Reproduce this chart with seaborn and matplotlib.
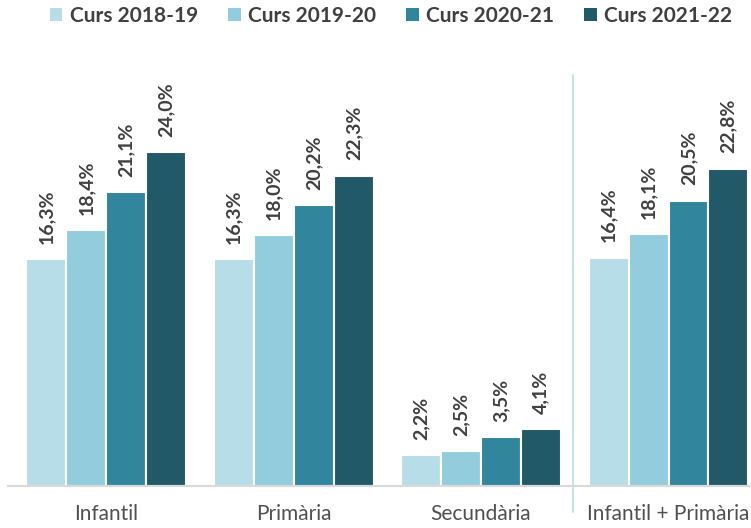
import matplotlib
matplotlib.use("Agg")
import matplotlib.pyplot as plt
import seaborn as sns
import pandas as pd
from matplotlib.patches import Patch

categories = ["Infantil", "Primària", "Secundària", "Infantil + Primària"]
courses = ["Curs 2018-19", "Curs 2019-20", "Curs 2020-21", "Curs 2021-22"]
values = {
    "Curs 2018-19": [16.3, 16.3, 2.2, 16.4],
    "Curs 2019-20": [18.4, 18.0, 2.5, 18.1],
    "Curs 2020-21": [21.1, 20.2, 3.5, 20.5],
    "Curs 2021-22": [24.0, 22.3, 4.1, 22.8],
}
colors = ["#B7DEE8", "#93CDDD", "#31859C", "#215968"]

rows = []
for c in courses:
    for cat, v in zip(categories, values[c]):
        rows.append({"cat": cat, "curs": c, "val": v})
df = pd.DataFrame(rows)

sns.set_theme(style="white")
plt.rcParams["font.family"] = ["Lato", "DejaVu Sans"]

fig = plt.figure(figsize=(7.51, 5.28), dpi=100)
ax = fig.add_axes([0.0107, (528 - 486) / 528, 0.9893, 446 / 528])

sns.barplot(data=df, x="cat", y="val", hue="curs", order=categories,
            hue_order=courses, palette=colors, width=0.853, gap=0,
            edgecolor="white", linewidth=1.5, saturation=1, ax=ax,
            legend=False)

text_color = "#404040"
for cont in ax.containers:
    labels = [f"{b.get_height():.1f}%".replace(".", ",") for b in cont]
    ax.bar_label(cont, labels=labels, rotation=90, padding=11,
                 fontsize=14, fontweight="bold", color=text_color)

ax.set_xlim(-0.523, 3.44)
ax.set_ylim(0, 32.04)
ax.set_xlabel("")
ax.set_ylabel("")
ax.set_yticks([])
for s in ["top", "right", "left"]:
    ax.spines[s].set_visible(False)
ax.spines["bottom"].set_color("#D9D9D9")
ax.spines["bottom"].set_linewidth(1.5)
ax.tick_params(axis="x", length=0, pad=13, labelsize=15, labelcolor="#505050")

# separator between the single stages and the combined group
ax.plot([2.49, 2.49], [-1.87, 29.5], color="#B7DEE8", lw=1.2, clip_on=False)

handles = [Patch(facecolor=c, edgecolor="none") for c in colors]
leg = fig.legend(handles, courses, loc="center",
                 bbox_to_anchor=(391 / 751, 1 - 16 / 528),
                 ncol=4, frameon=False, handlelength=0.6, handleheight=0.6,
                 handletextpad=0.35, columnspacing=1.45,
                 prop={"size": 15, "weight": "bold"})
for t in leg.get_texts():
    t.set_color(text_color)

fig.savefig("out.png", dpi=100)
